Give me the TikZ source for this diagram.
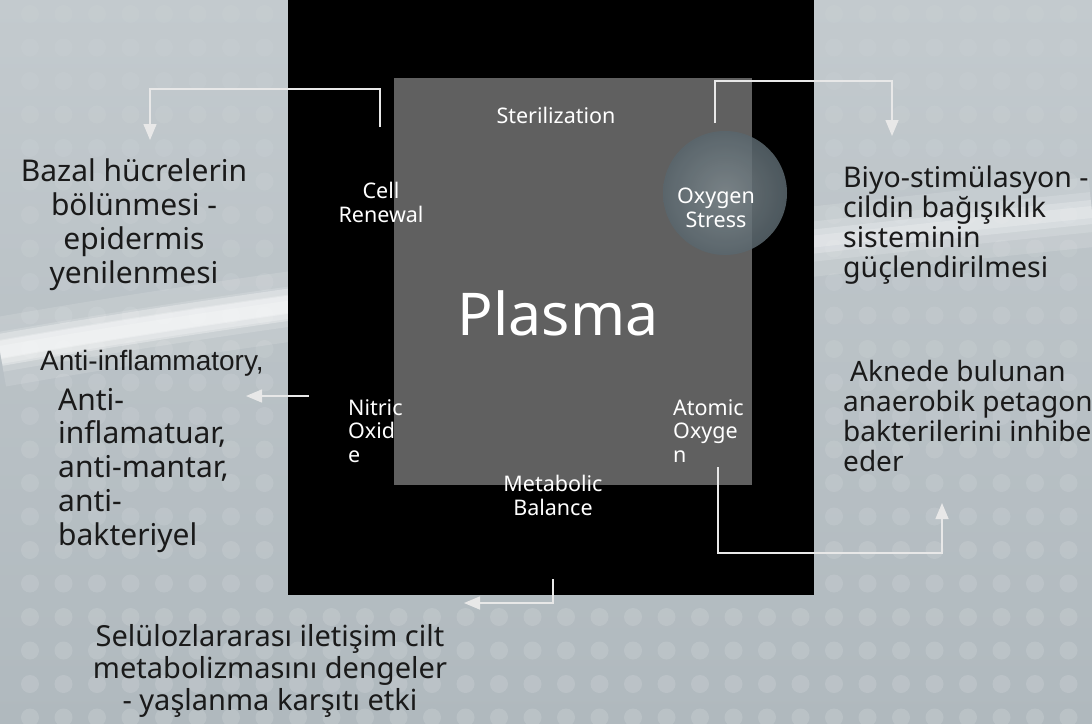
\documentclass[tikz,border=0pt]{standalone}
\usepackage{fontspec}
\setmainfont{Noto Sans}
\newfontfamily\arialfont{Liberation Sans}
\usetikzlibrary{arrows.meta}
\definecolor{bgtop}{HTML}{C3CACE}
\definecolor{bgbot}{HTML}{B0B9BE}
\definecolor{sqgray}{HTML}{606060}
\definecolor{linec}{HTML}{E8E8E8}
\definecolor{txtc}{HTML}{1A1A1A}
\definecolor{circin}{HTML}{7D888D}
\definecolor{circout}{HTML}{5A676E}
\begin{document}
\begin{tikzpicture}[x=1pt,y=-1pt,
  conn/.style={draw=linec, line width=1.5pt, -{Triangle[width=13pt,length=16pt]}},
  lbl/.style={text=white, inner sep=0pt, font=\fontsize{21.5}{23.5}\selectfont},
  ext/.style={text=txtc, inner sep=0pt, font=\fontsize{30}{33.7}\selectfont},
  extb/.style={text=txtc, inner sep=0pt, font=\fontsize{28.5}{29.8}\selectfont}]
% background
\useasboundingbox (0,0) rectangle (1092,723);
\shade[top color=bgtop, bottom color=bgbot] (0,0) rectangle (1092,723);
% swoosh
\begin{scope}
\clip (0,0) rectangle (1092,723);
\draw[white, opacity=0.12, line width=70pt] (0,352) .. controls (250,308) and (600,262) .. (1092,212);
\draw[white, opacity=0.15, line width=40pt] (0,352) .. controls (250,308) and (600,262) .. (1092,212);
\draw[white, opacity=0.22, line width=24pt] (0,352) .. controls (250,308) and (600,262) .. (1092,212);
\draw[white, opacity=0.20, line width=12pt] (0,352) .. controls (250,308) and (600,262) .. (1092,212);
\begin{scope}
\clip (0,0) rectangle (290,723);
\draw[white, opacity=0.30, line width=32pt] (0,350) .. controls (250,306) and (600,260) .. (1092,210);
\draw[white, opacity=0.30, line width=18pt] (0,350) .. controls (250,306) and (600,260) .. (1092,210);
\end{scope}
% dots
\foreach \i in {0,...,32} {
  \foreach \j in {0,...,21} {
    \pgfmathsetmacro{\op}{0.04+0.0045*\j}
    \fill[white, opacity=\op] (30+33.5*\i, 14+33.5*\j) circle (9);
  }
}
\end{scope}
% main panels
\fill[black] (288,0) rectangle (814,595);
\fill[sqgray] (394,78) rectangle (752,485);
\shade[inner color=circin, outer color=circout, opacity=0.85] (725,193) circle (62);
% inner labels (base anchor = baseline of last line)
\node[lbl, anchor=base] (ster) at (556,123) {Sterilization};
\node[lbl, align=center, anchor=base] (cell) at (381,222) {Cell\\Renewal};
\node[lbl, align=center, anchor=base] (oxy) at (716,227) {Oxygen\\Stress};
\node[lbl, align=left, anchor=base west] (nitric) at (348,462) {Nitric\\Oxid\\e};
\node[lbl, align=left, anchor=base west] (atomic) at (673,462) {Atomic\\Oxyge\\n};
\node[lbl, align=center, anchor=base] (meta) at (553,515) {Metabolic\\Balance};
\node[text=white, inner sep=0pt, font=\fontsize{59}{70}\selectfont, anchor=base] (plasma) at (558,335) {Plasma};
% outer texts
\node[ext, align=center, anchor=base] (bazal) at (134,283) {Bazal hücrelerin\\bölünmesi -\\epidermis\\yenilenmesi};
\node[extb, align=left, anchor=base west] (biyo) at (843,277) {Biyo-stimülasyon -\\cildin bağışıklık\\sisteminin\\güçlendirilmesi};
\node[text=txtc, inner sep=0pt, font=\fontsize{28}{29.8}\selectfont, align=left, anchor=base west] (akne) at (843,471) {\hspace*{7pt}Aknede bulunan\\anaerobik petagon\\bakterilerini inhibe\\eder};
\node[text=txtc, inner sep=0pt, font=\arialfont\fontsize{28}{32}\selectfont, anchor=base west] (antien) at (40,370) {Anti-inflammatory,};
\node[ext, align=left, anchor=base west] (antitr) at (58,545) {Anti-\\inflamatuar,\\anti-mantar,\\anti-\\bakteriyel};
\node[text=txtc, inner sep=0pt, font=\fontsize{29}{32}\selectfont, align=center, anchor=base] (selu) at (270,710) {Selülozlararası iletişim cilt\\metabolizmasını dengeler\\- yaşlanma karşıtı etki};
% connectors
\coordinate (cellA) at (380,127);
\coordinate (cellT) at (150,140);
\coordinate (oxyA) at (715,123);
\coordinate (oxyT) at (892,136);
\coordinate (nitA) at (309,396);
\coordinate (nitT) at (246,396);
\coordinate (atoA) at (718,467);
\coordinate (atoT) at (942,503);
\coordinate (metA) at (553,579);
\coordinate (metT) at (464,603);
\draw[conn] (cellA) -- ++(0,-38) -| (cellT);
\draw[conn] (oxyA) -- ++(0,-42) -| (oxyT);
\draw[conn] (nitA) -- (nitT);
\draw[conn] (atoA) -- ++(0,86) -| (atoT);
\draw[conn] (metA) |- (metT);
\end{tikzpicture}
\end{document}
